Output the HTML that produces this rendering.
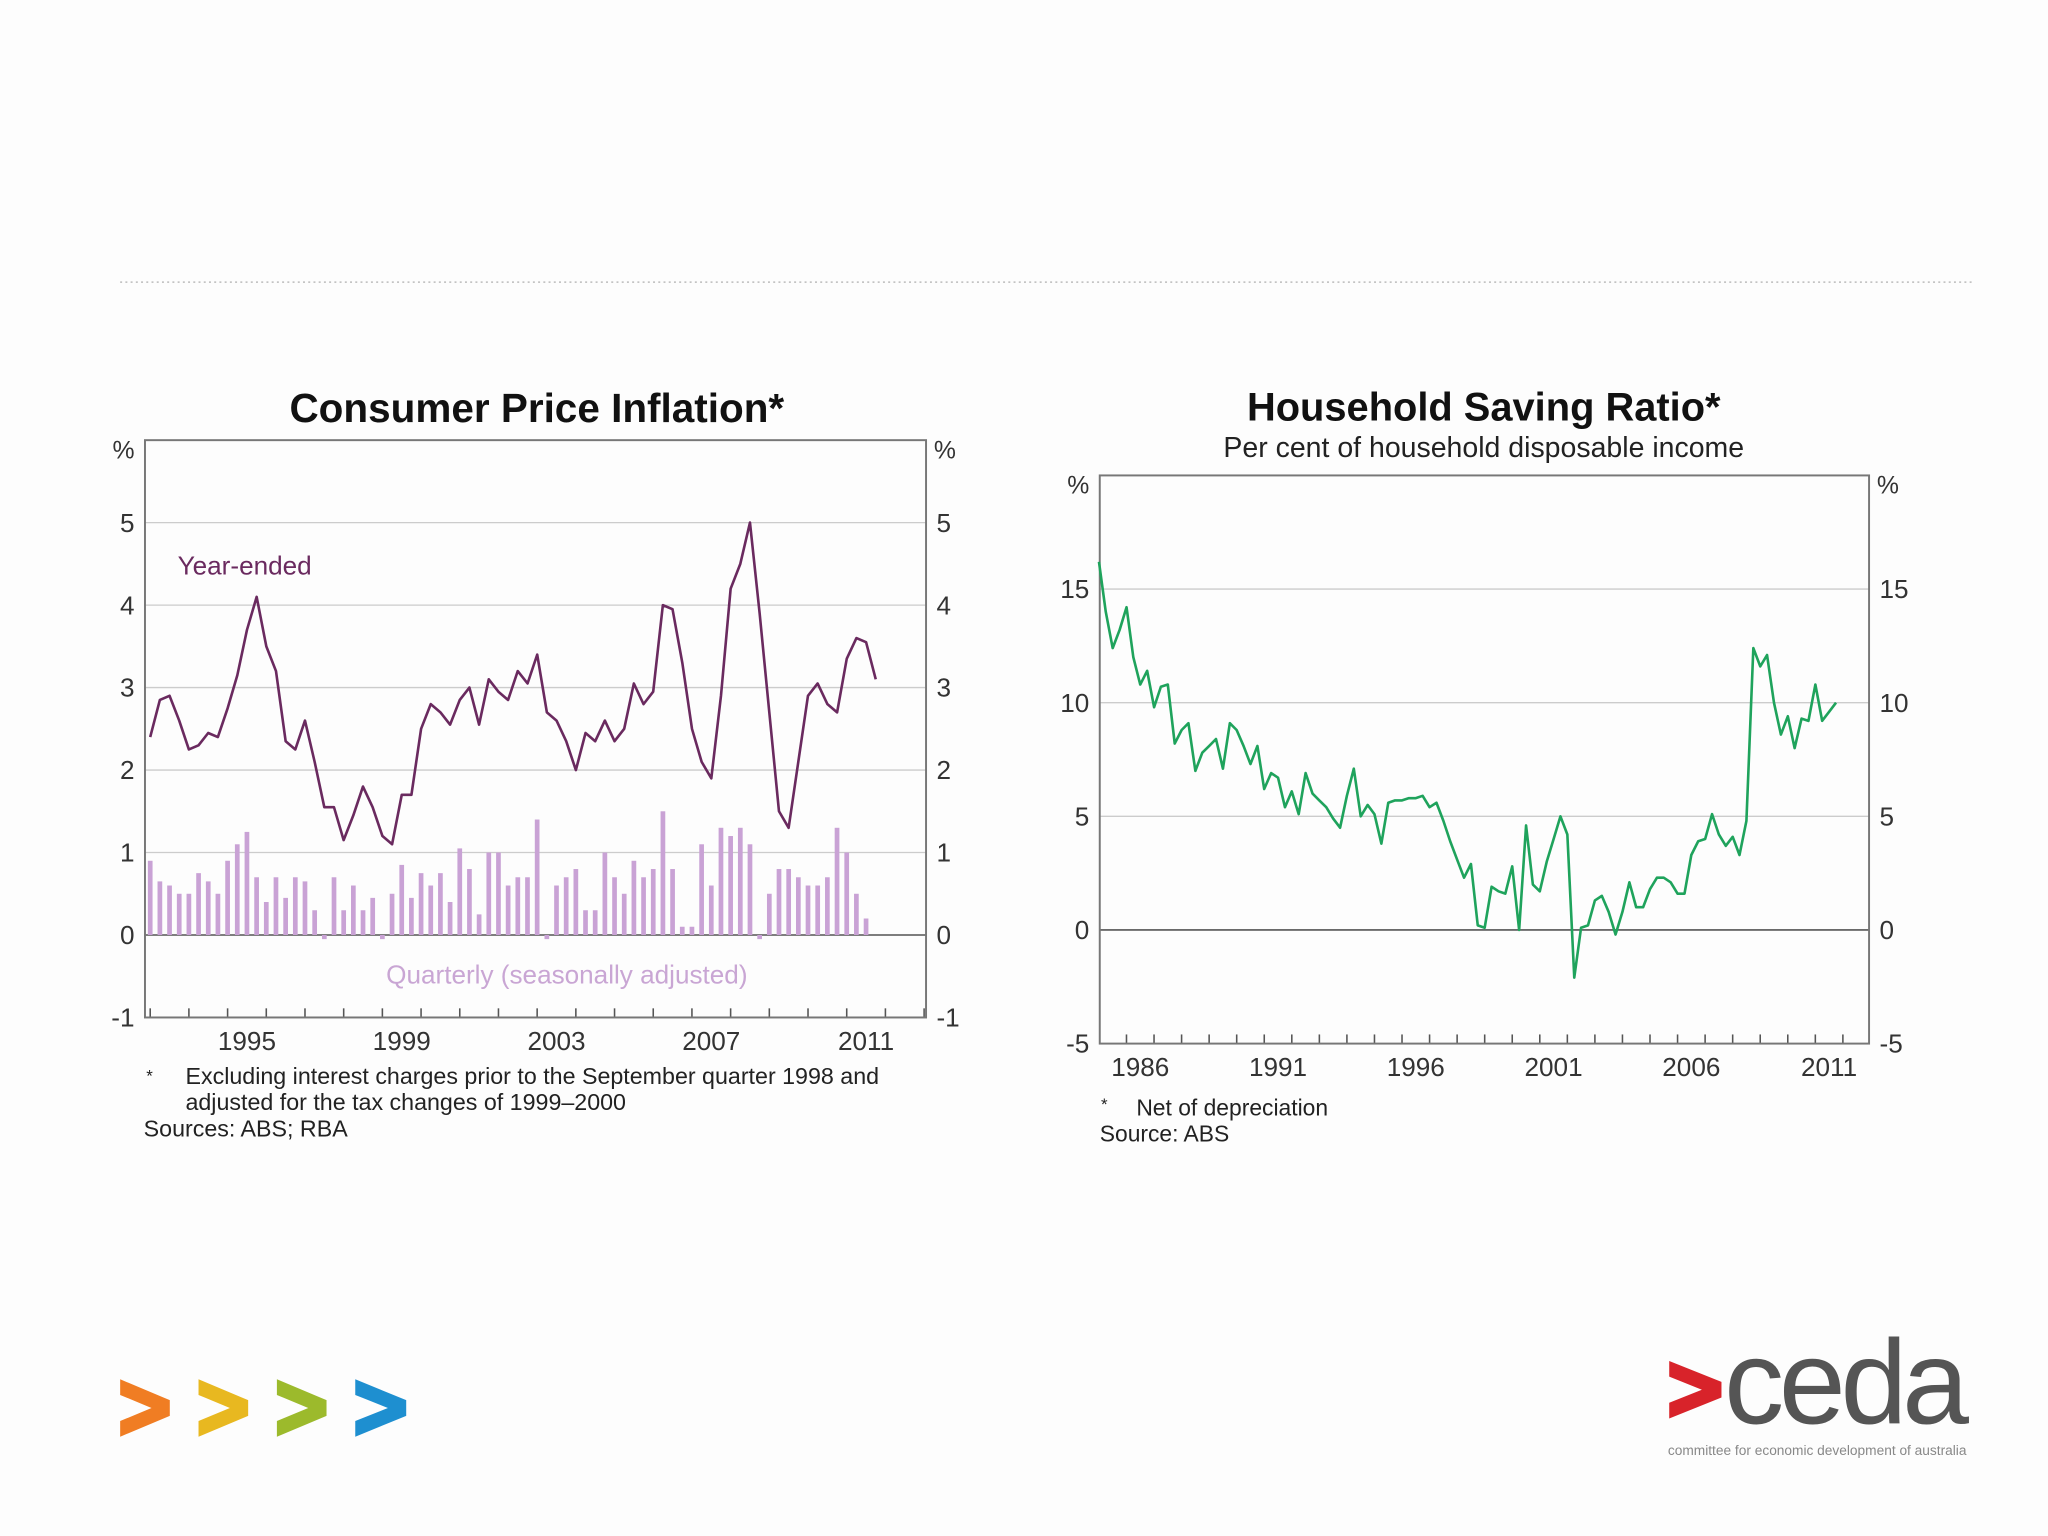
<!DOCTYPE html>
<html><head><meta charset="utf-8"><style>
html,body{margin:0;padding:0;background:#fdfdfd;}
svg{display:block;font-family:"Liberation Sans",sans-serif;}
</style></head><body>
<svg id="s" width="2048" height="1536" viewBox="0 0 1568 1176" xmlns="http://www.w3.org/2000/svg">
<rect width="1568" height="1176" fill="#fdfdfd"/>
<line x1="92" y1="216" x2="1512" y2="216" stroke="#bbb" stroke-width="1.2" stroke-dasharray="1.5,2.5"/>
<g id="cpi"></g>
<g id="hsr"></g>
<g>
<path d="M92,1056 L130,1072 L130,1084 L92,1100 L92,1088 L116,1078 L92,1068 Z" fill="#f07d23"/>
<path d="M152,1056 L190,1072 L190,1084 L152,1100 L152,1088 L176,1078 L152,1068 Z" fill="#e8b820"/>
<path d="M212,1056 L250,1072 L250,1084 L212,1100 L212,1088 L236,1078 L212,1068 Z" fill="#9cba2c"/>
<path d="M272,1056 L311,1072 L311,1084 L272,1100 L272,1088 L297,1078 L272,1068 Z" fill="#1e8fd0"/>
</g>
<g>
<path d="M1278,1042 L1318,1058 L1318,1070 L1278,1086 L1278,1074 L1303,1064 L1278,1054 Z" fill="#d8232a"/>
<text x="1320" y="1090" font-size="92" fill="#555" letter-spacing="-4">ceda</text>
<text x="1277" y="1114" font-size="10.5" fill="#888">committee for economic development of australia</text>
</g>
</svg>
<script>
// ---------- CPI chart data ----------
const cpiStart = 1993.0;
const cpiYearEnded = [2.4,2.85,2.9,2.6,2.25,2.3,2.45,2.4,2.75,3.15,3.7,4.1,3.5,3.2,2.35,2.25,2.6,2.1,1.55,1.55,1.15,1.45,1.8,1.55,1.2,1.1,1.7,1.7,2.5,2.8,2.7,2.55,2.85,3.0,2.55,3.1,2.95,2.85,3.2,3.05,3.4,2.7,2.6,2.35,2.0,2.45,2.35,2.6,2.35,2.5,3.05,2.8,2.95,4.0,3.95,3.3,2.5,2.1,1.9,2.9,4.2,4.5,5.0,3.9,2.7,1.5,1.3,2.1,2.9,3.05,2.8,2.7,3.35,3.6,3.55,3.1];
const cpiQuarterly = [0.9,0.65,0.6,0.5,0.5,0.75,0.65,0.5,0.9,1.1,1.25,0.7,0.4,0.7,0.45,0.7,0.65,0.3,-0.05,0.7,0.3,0.6,0.3,0.45,-0.05,0.5,0.85,0.45,0.75,0.6,0.75,0.4,1.05,0.8,0.25,1.0,1.0,0.6,0.7,0.7,1.4,-0.05,0.6,0.7,0.8,0.3,0.3,1.0,0.7,0.5,0.9,0.7,0.8,1.5,0.8,0.1,0.1,1.1,0.6,1.3,1.2,1.3,1.1,-0.05,0.5,0.8,0.8,0.7,0.6,0.6,0.7,1.3,1.0,0.5,0.2];
const cpiYTicks = [-1,0,1,2,3,4,5];
const cpiXLabels = [1995,1999,2003,2007,2011];
// ---------- Saving ratio data ----------
const hsrStart = 1985.0;
const hsrValues = [16.2,14.0,12.4,13.2,14.2,12.0,10.8,11.4,9.8,10.7,10.8,8.2,8.8,9.1,7.0,7.8,8.1,8.4,7.1,9.1,8.8,8.1,7.3,8.1,6.2,6.9,6.7,5.4,6.1,5.1,6.9,6.0,5.7,5.4,4.9,4.5,5.9,7.1,5.0,5.5,5.1,3.8,5.6,5.7,5.7,5.8,5.8,5.9,5.4,5.6,4.8,3.9,3.1,2.3,2.9,0.2,0.1,1.9,1.7,1.6,2.8,0.0,4.6,2.0,1.7,3.0,4.0,5.0,4.2,-2.1,0.1,0.2,1.3,1.5,0.8,-0.2,0.8,2.1,1.0,1.0,1.8,2.3,2.3,2.1,1.6,1.6,3.3,3.9,4.0,5.1,4.2,3.7,4.1,3.3,4.8,12.4,11.6,12.1,10.0,8.6,9.4,8.0,9.3,9.2,10.8,9.2,9.6,10.0];
const hsrYTicks = [-5,0,5,10,15];
const hsrXLabels = [1986,1991,1996,2001,2006,2011];

const NS="http://www.w3.org/2000/svg";
function mk(parent,tag,attrs,text){const e=document.createElementNS(NS,tag);for(const k in attrs)e.setAttribute(k,attrs[k]);if(text!==undefined)e.textContent=text;parent.appendChild(e);return e;}

function drawChart(g,cfg){
  const {L,R,T,B,xmin,xmax,ymin,ymax}=cfg;
  const X=t=>L+(t-xmin)/(xmax-xmin)*(R-L);
  const Y=v=>B-(v-ymin)/(ymax-ymin)*(B-T);
  cfg.yTicks.forEach(v=>{
    if(v!==ymin){
      const gl=mk(g,'line',{x1:L,x2:R,y1:Y(v),y2:Y(v),stroke:v===0?'#555':'#ccc','stroke-width':v===0?1.2:1});
      
      
    }
    const a=mk(g,'text',{x:L-8,y:Y(v)+7,'font-size':20,fill:'#333','text-anchor':'end'},String(v));
    
    
    const b=mk(g,'text',{x:R+8,y:Y(v)+7,'font-size':20,fill:'#333','text-anchor':'start'},String(v));
    
    
  });
  const p1=mk(g,'text',{x:L-8,y:T+14,'font-size':19,fill:'#333','text-anchor':'end'},'%');
  
  
  const p2=mk(g,'text',{x:R+6,y:T+14,'font-size':19,fill:'#333','text-anchor':'start'},'%');
  
  
  for(let y=Math.ceil(xmin);y<=xmax;y++){
    const tk=mk(g,'line',{x1:X(y),x2:X(y),y1:B,y2:B-7,stroke:'#555','stroke-width':1.2});
    
    
  }
  cfg.xLabels.forEach(y=>{
    const t=mk(g,'text',{x:X(y+0.5),y:B+25,'font-size':20,fill:'#333','text-anchor':'middle'},String(y));
    
    
  });
  const fr=mk(g,'rect',{x:L,y:T,width:R-L,height:B-T,fill:'none',stroke:'#777','stroke-width':1.5});
  
  
  return {X,Y};
}

// CPI
(function(){
  const g=document.getElementById('cpi');
  const t=mk(g,'text',{x:411,y:323,'font-size':31,'font-weight':'bold',fill:'#111','text-anchor':'middle'},'Consumer Price Inflation*');
  
  
  const {X,Y}=drawChart(g,{L:111,R:709,T:337,B:779,xmin:1992.865,xmax:2013.05,ymin:-1,ymax:6,yTicks:cpiYTicks,xLabels:cpiXLabels});
  cpiQuarterly.forEach((v,i)=>{
    const x=X(cpiStart+i*0.25);
    const y0=Y(0),y1=Y(v);
    const r=mk(g,'rect',{x:x-1.8,y:Math.min(y0,y1),width:3.6,height:Math.max(1.5,Math.abs(y1-y0)),fill:'#c9a2d5'});
    
    
  });
  const pts=cpiYearEnded.map((v,i)=>X(cpiStart+i*0.25).toFixed(1)+','+Y(v).toFixed(1)).join(' ');
  const pl=mk(g,'polyline',{points:pts,fill:'none',stroke:'#6a2a5f','stroke-width':2,'stroke-linejoin':'round'});
  
  
  const l1=mk(g,'text',{x:136,y:440,'font-size':20,fill:'#6a2a5f'},'Year-ended');
  
  
  const l2=mk(g,'text',{x:434,y:753,'font-size':20,fill:'#c9a6d4','text-anchor':'middle'},'Quarterly (seasonally adjusted)');
  
  
  const f=[['*',112,828],['Excluding interest charges prior to the September quarter 1998 and',142,830],['adjusted for the tax changes of 1999–2000',142,850],['Sources: ABS; RBA',110,870]];
  f.forEach(a=>{const e=mk(g,'text',{x:a[1],y:a[2],'font-size':a[0]==='*'?13:17.8,fill:'#222'},a[0]);
    
    });
})();

// Saving ratio
(function(){
  const g=document.getElementById('hsr');
  const t=mk(g,'text',{x:1136,y:322,'font-size':30.5,'font-weight':'bold',fill:'#111','text-anchor':'middle'},'Household Saving Ratio*');
  
  
  const st=mk(g,'text',{x:1136,y:350,'font-size':21.8,fill:'#222','text-anchor':'middle'},'Per cent of household disposable income');
  
  
  const {X,Y}=drawChart(g,{L:842,R:1431,T:364,B:799,xmin:1985.03,xmax:2012.95,ymin:-5,ymax:20,yTicks:hsrYTicks,xLabels:hsrXLabels});
  const pts=hsrValues.map((v,i)=>X(hsrStart+i*0.25).toFixed(1)+','+Y(v).toFixed(1)).join(' ');
  const pl=mk(g,'polyline',{points:pts,fill:'none',stroke:'#1fa35c','stroke-width':2,'stroke-linejoin':'round'});
  
  
  const f=[['*',843,850],['Net of depreciation',870,854],['Source: ABS',842,874]];
  f.forEach(a=>{const e=mk(g,'text',{x:a[1],y:a[2],'font-size':a[0]==='*'?13:17.5,fill:'#222'},a[0]);
    
    });
})();
</script>
</body></html>
